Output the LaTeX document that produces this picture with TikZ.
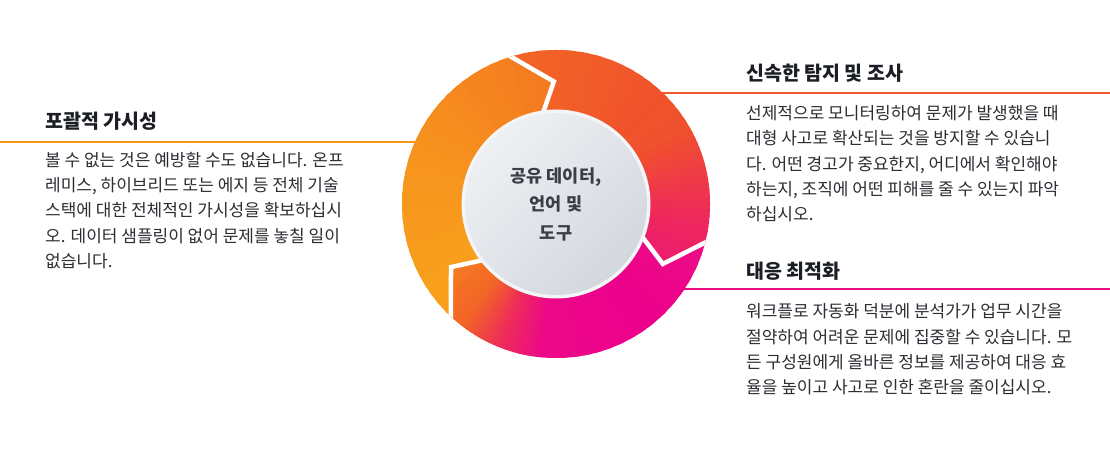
\documentclass[tikz,border=0pt]{standalone}
\usepackage{fontspec}
\setmainfont{Noto Sans CJK KR}
\usetikzlibrary{calc}
\definecolor{txt}{HTML}{2B2E33}
\definecolor{ttl}{HTML}{1B1E24}
\definecolor{ctr}{HTML}{3A3F47}
\definecolor{lineL}{HTML}{F7961D}
\definecolor{lineR}{HTML}{F15A29}
\definecolor{lineB}{HTML}{EA0A80}
\definecolor{dskA}{HTML}{EEF0F3}
\definecolor{dskB}{HTML}{D3D7DE}
\definecolor{dskE}{HTML}{F4F5F7}
% segment colour stops
\definecolor{cL1}{HTML}{F9A31B}\definecolor{cL2}{HTML}{F89E1C}\definecolor{cL3}{HTML}{F7931E}
\definecolor{cL4}{HTML}{F5841F}\definecolor{cL5}{HTML}{F37420}
\definecolor{cR1}{HTML}{F36C23}\definecolor{cR2}{HTML}{F15A29}\definecolor{cR3}{HTML}{F0502E}
\definecolor{cR4}{HTML}{EF3A47}\definecolor{cR5}{HTML}{EE2560}\definecolor{cR6}{HTML}{EC1578}
\definecolor{cB1}{HTML}{EC1380}\definecolor{cB2}{HTML}{EC008C}\definecolor{cB3}{HTML}{EC0888}
\definecolor{cB4}{HTML}{EE2E58}\definecolor{cB5}{HTML}{F26526}\definecolor{cB6}{HTML}{F6881F}
\newcommand\wedges[4]{%
  \foreach \k in {0,...,9}{%
    \pgfmathsetmacro\wa{#1+(#2-#1)*\k/10}%
    \pgfmathsetmacro\wb{#1+(#2-#1)*(\k+1.6)/10}%
    \pgfmathsetmacro\wp{100*(\k+0.5)/10}%
    \colorlet{wc}{#4!\wp!#3}%
    \fill[wc] (0,0) -- (\wa:260) -- (\wb:260) -- cycle;
  }}
\tikzset{
  leader/.style={line width=2pt},
  gapline/.style={white, line width=4.5pt, line join=miter},
  title/.style={anchor=base west, inner sep=0pt, text=ttl, font=\fontsize{19.5}{23}\selectfont\bfseries},
  body/.style={anchor=north west, inner sep=0pt, text=txt, align=left, font=\fontsize{17}{25.3}\selectfont},
  centre/.style={inner sep=0pt, text=ctr, align=center, font=\fontsize{17.5}{28.5}\selectfont\bfseries},
}
\begin{document}
\begin{tikzpicture}[x=1pt,y=1pt]
\useasboundingbox (0,0) rectangle (1110,462);
\fill[white] (0,0) rectangle (1110,462);
\coordinate (c) at (556,258);
% leader lines (under the ring)
\coordinate (lL) at (0,320.3);
\coordinate (lR) at (1110,368.7);
\coordinate (lB) at (1110,172.5);
\draw[leader, lineL] (lL) -- (lL -| c);
\draw[leader, lineR] (lR) -- (lR -| c);
\draw[leader, lineB] (lB) -- (lB -| c);
\begin{scope}[shift={(c)}]
  % gap geometry
  \coordinate (O1) at (107:154);   \coordinate (T1) at (91:122.5);   \coordinate (I1) at (97.5:94);
  \coordinate (O2) at (-14.5:154); \coordinate (T2) at (-29.3:122.5);\coordinate (I2) at (-21.5:94);
  \coordinate (O3) at (227:154);   \coordinate (T3) at (211:122.5);  \coordinate (I3) at (217:94);
  \foreach \g in {1,2,3}{
    \coordinate (Oe\g) at ($(T\g)!1.8!(O\g)$);
    \coordinate (Ie\g) at ($(T\g)!1.6!(I\g)$);
  }
  \begin{scope}
    \clip (0,0) circle (154);
    % left segment
    \begin{scope}
      \clip (Oe3) -- (220:260) -- (180:260) -- (145:260) -- (122:260) -- (Oe1) -- (T1) -- (Ie1) -- (0,0) -- (Ie3) -- (T3) -- cycle;
      \wedges{245}{205}{cL1}{cL2}
      \wedges{205}{160}{cL2}{cL3}
      \wedges{160}{120}{cL3}{cL4}
      \wedges{120}{80}{cL4}{cL5}
    \end{scope}
    % top-right segment
    \begin{scope}
      \clip (Oe1) -- (100:260) -- (60:260) -- (20:260) -- (0:260) -- (Oe2) -- (T2) -- (Ie2) -- (0,0) -- (Ie1) -- (T1) -- cycle;
      \wedges{125}{70}{cR1}{cR2}
      \wedges{70}{30}{cR2}{cR3}
      \wedges{30}{10}{cR3}{cR4}
      \wedges{10}{-10}{cR4}{cR5}
      \wedges{-10}{-40}{cR5}{cR6}
    \end{scope}
    % bottom segment
    \begin{scope}
      \clip (Oe2) -- (-20:260) -- (-60:260) -- (-100:260) -- (-118:260) -- (Oe3) -- (T3) -- (Ie3) -- (0,0) -- (Ie2) -- (T2) -- cycle;
      \wedges{5}{-50}{cB1}{cB2}
      \wedges{-50}{-95}{cB2}{cB3}
      \wedges{-95}{-112}{cB3}{cB4}
      \wedges{-112}{-128}{cB4}{cB5}
      \wedges{-128}{-160}{cB5}{cB6}
    \end{scope}
    \draw[gapline] (Oe1) -- (T1) -- (Ie1);
    \draw[gapline] (Oe2) -- (T2) -- (Ie2);
    \draw[gapline] (Oe3) -- (T3) -- (Ie3);
  \end{scope}
  % central disk
  \fill[dskE] (0,0) circle (94.5);
  \shade[top color=dskA, bottom color=dskB, shading angle=45] (0,0) circle (91);
\end{scope}
\node[centre] (hub) at (c) {공유 데이터,\\언어 및\\도구};
% left block
\node[title] (tL) at (45,333.3) {포괄적 가시성};
\node[body] (bL) at (45,310.3) {볼 수 없는 것은 예방할 수도 없습니다. 온프\\레미스, 하이브리드 또는 에지 등 전체 기술\\스택에 대한 전체적인 가시성을 확보하십시\\오. 데이터 샘플링이 없어 문제를 놓칠 일이\\없습니다.};
% right top block
\node[title] (tR) at (746,381.5) {신속한 탐지 및 조사};
\node[body] (bR) at (746,356.7) {선제적으로 모니터링하여 문제가 발생했을 때\\대형 사고로 확산되는 것을 방지할 수 있습니\\다. 어떤 경고가 중요한지, 어디에서 확인해야\\하는지, 조직에 어떤 피해를 줄 수 있는지 파악\\하십시오.};
% right bottom block
\node[title] (tB) at (746,183) {대응 최적화};
\node[body] (bB) at (746,158.5) {워크플로 자동화 덕분에 분석가가 업무 시간을\\절약하여 어려운 문제에 집중할 수 있습니다. 모\\든 구성원에게 올바른 정보를 제공하여 대응 효\\율을 높이고 사고로 인한 혼란을 줄이십시오.};
\end{tikzpicture}
\end{document}
